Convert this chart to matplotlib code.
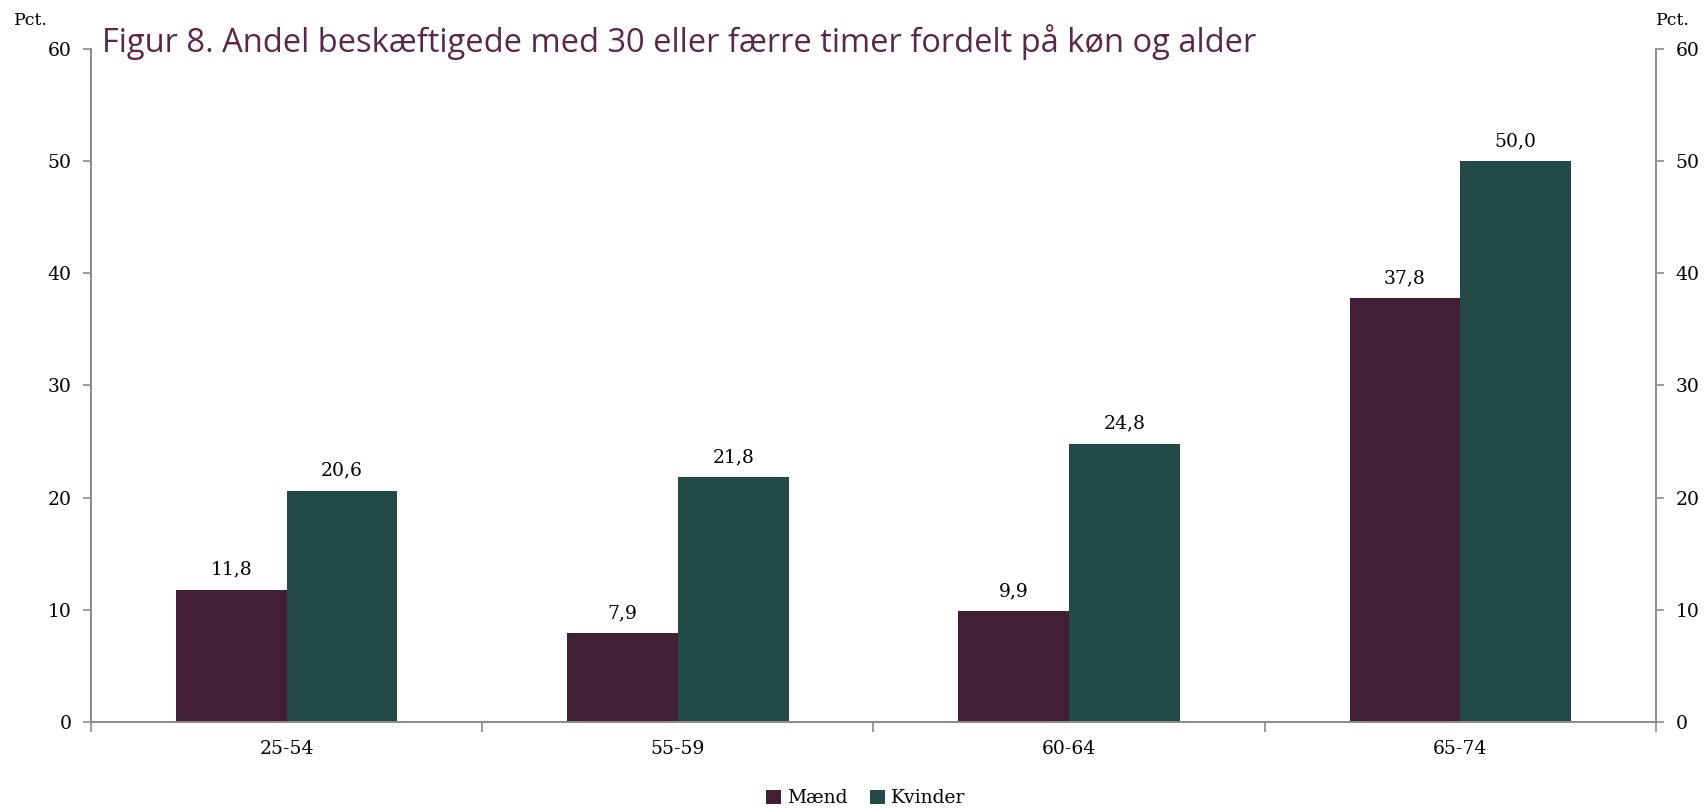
import numpy as np
import matplotlib.pyplot as plt

# Andel beskæftigede med 30 eller færre timer (pct.)
categories = ['25-54', '55-59', '60-64', '65-74']
maend = [11.8, 7.9, 9.9, 37.8]
kvinder = [20.6, 21.8, 24.8, 50.0]
yticks = [0, 10, 20, 30, 40, 50, 60]

c_maend = '#431f35'
c_kvinder = '#234a47'
grey = '#8c8c8c'
serif = 'DejaVu Serif'
fs = 13.5

fig = plt.figure(figsize=(17.04, 8.09), dpi=100)
ax = fig.add_axes([0.0534, 0.1075, 0.9184, 0.832])

x = np.arange(len(categories))
w = 0.283
b1 = ax.bar(x - w / 2, maend, w, color=c_maend, label='Mænd')
b2 = ax.bar(x + w / 2, kvinder, w, color=c_kvinder, label='Kvinder')

for bars, vals in ((b1, maend), (b2, kvinder)):
    for rect, v in zip(bars, vals):
        ax.annotate(f'{v:.1f}'.replace('.', ','),
                    (rect.get_x() + rect.get_width() / 2, v),
                    xytext=(0, 8), textcoords='offset points',
                    ha='center', va='bottom', fontsize=fs, family=serif)

ax.set_xlim(-0.5, len(categories) - 0.5)
ax.set_ylim(0, 60)
ax.set_yticks(yticks)
ax.set_yticklabels([str(t) for t in yticks], family=serif, fontsize=fs)
ax.set_xticks(x)
ax.set_xticklabels(categories, family=serif, fontsize=fs)
ax.tick_params(axis='x', length=0, pad=13)
ax.set_xticks(np.arange(-0.5, len(categories)), minor=True)
ax.tick_params(axis='x', which='minor', length=7, color=grey, width=1.2)
ax.tick_params(axis='y', length=6, color=grey, width=1.2, pad=8)

ax2 = ax.twinx()
ax2.set_ylim(0, 60)
ax2.set_yticks(yticks)
ax2.set_yticklabels([str(t) for t in yticks], family=serif, fontsize=fs)
ax2.tick_params(axis='y', length=6, color=grey, width=1.2, pad=8)

for a in (ax, ax2):
    a.spines['top'].set_visible(False)
    for s in ('left', 'right', 'bottom'):
        a.spines[s].set_color(grey)
        a.spines[s].set_linewidth(1.3)

fig.text(0.008, 0.975, 'Pct.', family=serif, fontsize=12.5, va='center')
fig.text(0.972, 0.975, 'Pct.', family=serif, fontsize=12.5, va='center')

fig.text(0.060, 0.948, 'Figur 8. Andel beskæftigede med 30 eller færre timer fordelt på køn og alder',
         family='Open Sans', fontsize=23.5, color='#5b2748', va='center')

leg = fig.legend(handles=[b1, b2], loc='center', bbox_to_anchor=(0.508, 0.013),
                 ncol=2, frameon=False, prop={'family': serif, 'size': fs},
                 handlelength=0.8, handleheight=0.8, handletextpad=0.3, columnspacing=1.2)

fig.savefig('out.png', dpi=100)
